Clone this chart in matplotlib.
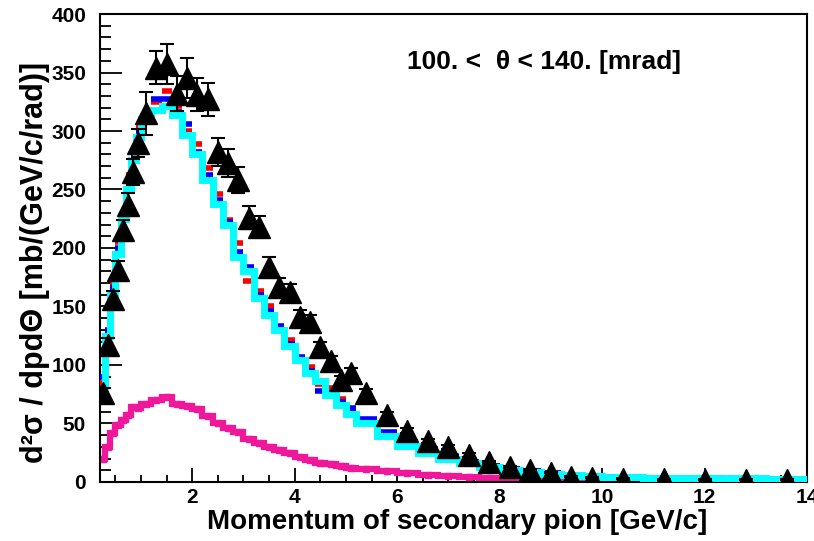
import numpy as np
import matplotlib
matplotlib.use("Agg")
import matplotlib.pyplot as plt
from matplotlib.ticker import MultipleLocator

plt.rcParams['font.family'] = ['Liberation Sans', 'DejaVu Sans']
plt.rcParams['font.weight'] = 'bold'

# bin edges of momentum [GeV/c]
edges = [0.2, 0.3, 0.4, 0.5, 0.6, 0.7, 0.8, 0.9, 1.0,
         1.2, 1.4, 1.6, 1.8, 2.0, 2.2, 2.4, 2.6, 2.8, 3.0, 3.2, 3.4, 3.6, 3.8,
         4.0, 4.2, 4.4, 4.6, 4.8, 5.0, 5.2,
         5.6, 6.0, 6.4, 6.8, 7.2, 7.6, 8.0, 8.4, 8.8, 9.2, 9.6, 10.0,
         10.8, 11.6, 12.4, 13.2, 14.0]

data = [76, 117, 156, 181, 215, 237, 265, 290,
        315, 354, 357, 332, 345, 331, 327, 282, 273, 258, 226, 218, 184, 167, 162,
        141, 137, 115, 103, 87, 93,
        76, 57, 44, 35, 30, 23, 17, 13, 10, 8, 4.5, 3.5,
        2.6, 2.2, 2.0, 2.0, 2.0]
data_err = [4, 6, 7, 8, 9, 10, 11, 12,
            18, 14, 17, 15, 17, 14, 14, 12, 12, 11, 10, 9, 8, 7, 7,
            6, 6, 5, 5, 4, 4,
            3.5, 3, 2.5, 2, 1.8, 1.5, 1.2, 1, 0.8, 0.7, 0.5, 0.5,
            0.4, 0.3, 0.3, 0.3, 0.3]

cyan = [78, 125, 160, 195, 225, 250, 275, 295,
        310, 318, 321, 314, 297, 280, 258, 238, 220, 192, 180, 157, 143, 130, 116,
        104, 93, 86, 74, 66, 58,
        50, 39, 31, 25, 20, 16, 13, 10, 8.5, 7, 6, 5,
        4, 3.5, 3, 3, 2.5]
red = [85, 128, 168, 205, 228, 262, 280, 303,
       314, 325, 334, 321, 300, 289, 268, 246, 224, 204, 172, 163, 150, 131, 121,
       106, 98, 84, 80, 71, 61,
       51, 41, 34, 26, 21, 17, 13.5, 11, 9, 7.5, 6, 5,
       4, 3.5, 3, 2.8, 2.5]
blue = [90, 130, 166, 200, 226, 258, 278, 300,
        313, 327, 327, 316, 306, 282, 262, 241, 222, 197, 184, 160, 146, 133, 118,
        107, 95, 78, 76, 68, 63,
        54, 43, 34, 28, 22, 17, 14, 11, 9, 7.5, 6, 5,
        4.2, 3.6, 3, 2.8, 2.5]
pink = [20, 30, 42, 49, 53, 57, 64, 63,
        67, 70, 73, 67, 65, 62, 56, 50, 46, 43, 37, 33, 30, 27, 24.5,
        21.5, 19, 16.5, 15, 13.5, 12,
        11, 9.5, 8, 6.3, 5, 4, 3, 2.5, 2.2, 2, 1.8, 1.6,
        1.3, 1.0, 0.8, 0.6, 0.5]

e = np.array(edges)
centers = 0.5 * (e[:-1] + e[1:])

fig = plt.figure(figsize=(8.14, 5.41), dpi=100)
ax = fig.add_axes([0.1229, 0.1091, 0.8685, 0.8650])

ax.stairs(pink, edges, color='#f0189a', lw=4.5, zorder=2, baseline=None)
ax.plot(centers, pink, 's', color='#f0189a', ms=4, zorder=2)
ax.hlines(red, e[:-1], e[1:], color='#ff0000', lw=4, zorder=3)
ax.hlines(blue, e[:-1], e[1:], color='#0000ff', lw=4, zorder=4)
ax.stairs(cyan, edges, color='#00ffff', lw=5, zorder=5, baseline=None)
ax.errorbar(centers, data, yerr=data_err, fmt='^', color='black', ms=16,
            elinewidth=1.5, capsize=5, capthick=1.5, zorder=6)

ax.set_xlim(0.2, 14)
ax.set_ylim(0, 400)
ax.xaxis.set_major_locator(MultipleLocator(2))
ax.xaxis.set_minor_locator(MultipleLocator(0.5))
ax.yaxis.set_major_locator(MultipleLocator(50))
ax.yaxis.set_minor_locator(MultipleLocator(10))
ax.tick_params(axis='both', which='both', direction='in', top=False, right=False,
               width=1.3, labelsize=15)
ax.tick_params(axis='x', which='major', length=10, pad=4)
ax.tick_params(axis='x', which='minor', length=5)
ax.tick_params(axis='y', which='major', length=16, pad=10)
ax.tick_params(axis='y', which='minor', length=8)
for lab in ax.get_xticklabels() + ax.get_yticklabels():
    lab.set_fontweight('bold')
for s in ax.spines.values():
    s.set_linewidth(1.5)

ax.set_xlabel('Momentum of secondary pion [GeV/c]', fontsize=20, fontweight='bold')
ax.xaxis.set_label_coords(0.505, -0.085)
ax.xaxis.label.set_va('center')
ax.set_ylabel('d²σ / dpdΘ [mb/(GeV/c/rad)]', fontsize=22, fontweight='bold')
ax.yaxis.set_label_coords(-0.092, 0.47)
ax.yaxis.label.set_va('center')

ax.text(0.628, 0.897, '100. <  θ < 140. [mrad]', transform=ax.transAxes,
        fontsize=19, fontweight='bold', ha='center', va='center')

fig.savefig('out.png', dpi=100)
